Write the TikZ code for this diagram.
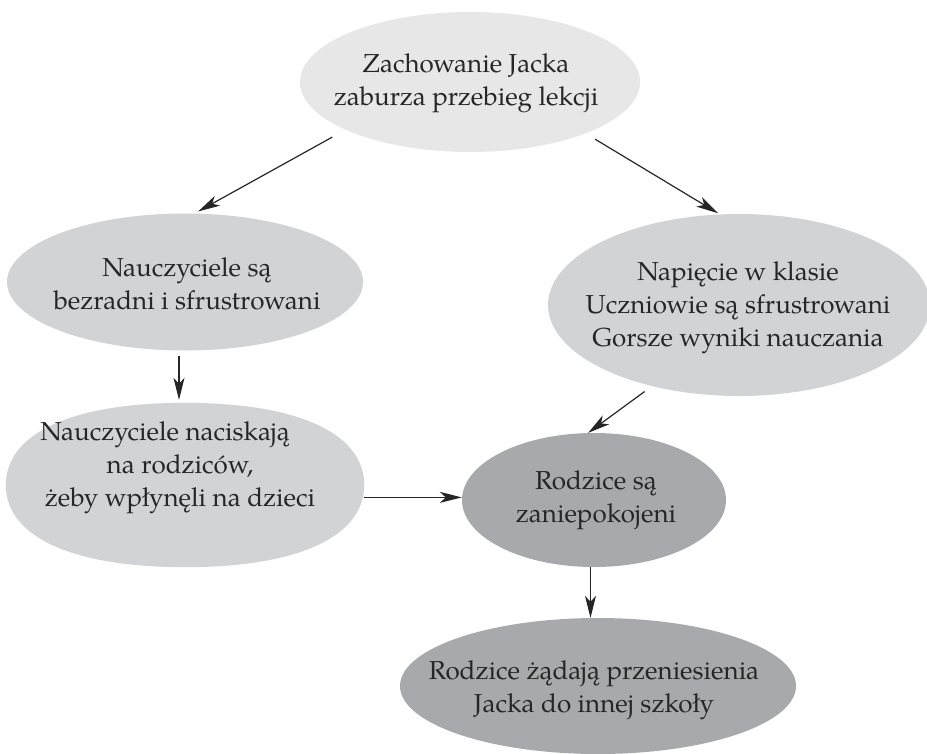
\documentclass[tikz,border=0pt]{standalone}
\usepackage{fontspec}
\setmainfont{TeX Gyre Pagella}
\usetikzlibrary{arrows.meta,shapes.geometric,calc}
\definecolor{shadeA}{RGB}{231,231,232}
\definecolor{shadeB}{RGB}{209,211,212}
\definecolor{shadeC}{RGB}{167,169,172}
\begin{document}
\begin{tikzpicture}[x=1pt,y=-1pt,
  blob/.style={ellipse,draw=none,inner sep=0pt},
  txt/.style={align=center,inner sep=0pt,text=black!85,
    font=\fontsize{26}{33}\selectfont},
  link/.style={line width=1.2pt,black!85,
    -{Stealth[length=22pt,width=11pt,inset=6pt]}}]
\useasboundingbox (0,0) rectangle (927,753);

% ellipses
\node[blob,fill=shadeA,minimum width=340pt,minimum height=140pt] (e1) at (470,82) {};
\node[blob,fill=shadeB,minimum width=356pt,minimum height=137pt] (e2) at (185,282) {};
\node[blob,fill=shadeB,minimum width=382pt,minimum height=182pt] (e3) at (739,305) {};
% the lower-left oval is a little fuller than a plain ellipse
\node[blob,minimum width=358pt,minimum height=164pt] (e4) at (185,485) {};
\fill[shadeB] (e4.east) .. controls +(0,-51.7) and +(112.8,0) .. (e4.north)
  .. controls +(-112.8,0) and +(0,-51.7) .. (e4.west)
  .. controls +(0,51.7) and +(-112.8,0) .. (e4.south)
  .. controls +(112.8,0) and +(0,51.7) .. (e4.east) -- cycle;
\node[blob,fill=shadeC,minimum width=264pt,minimum height=134pt] (e5) at (594,500) {};
\node[blob,fill=shadeC,minimum width=396pt,minimum height=136pt] (e6) at (598,686) {};

% labels
\node[txt] (t1) at (466,83) {Zachowanie Jacka\\zaburza przebieg lekcji};
\node[txt] (t2) at (187,284) {Nauczyciele są\\bezradni i sfrustrowani};
\node[txt] (t3) at (738,308) {Napięcie w klasie\\Uczniowie są sfrustrowani\\Gorsze wyniki nauczania};
\node[txt] (t4) at (180,468) {Nauczyciele naciskają\hspace*{30pt}\\na rodziców,\hspace*{40pt}\\żeby wpłynęli na dzieci};
\node[txt] (t5) at (596,500) {Rodzice są\\zaniepokojeni};
\node[txt] (t6) at (594,690) {Rodzice żądają przeniesienia\\Jacka do innej szkoły};

% connectors
\draw[link,shorten <=15pt,shorten >=4pt] (e1.201.5) -- (e2.82.5);
\draw[link,shorten <=11pt,shorten >=2pt] (e1.336.6) -- (e3.102.9);
\draw[link,shorten <=5pt,shorten >=3pt] (e2.265) -- (e2.265 |- e4.north);
\draw[link,shorten <=2pt] (e4.-4) -- (e4.-4 -| e5.west);
\draw[link,shorten <=9pt] (e3.223.4) -- (e5.95.1);
\draw[link,shorten >=0pt] (e5.267) -- (e5.267 |- e6.north);
\end{tikzpicture}
\end{document}
